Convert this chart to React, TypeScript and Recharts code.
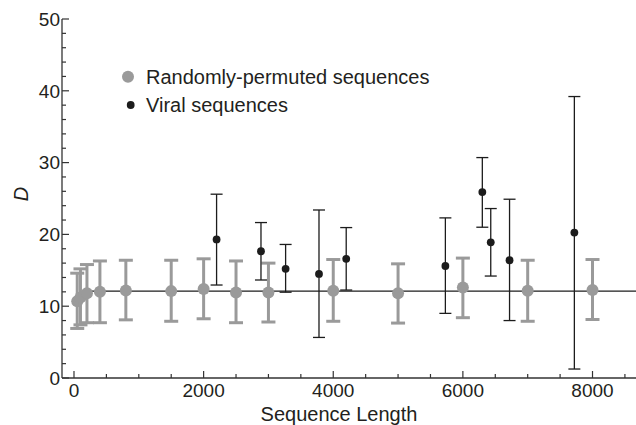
import React from 'react';
import { ScatterChart, Scatter, XAxis, YAxis, ErrorBar, ReferenceLine, Legend } from 'recharts';

// Randomly-permuted sequences (gray)
const permutedLength = [50, 100, 200, 400, 800, 1500, 2000, 2500, 3000, 4000, 5000, 6000, 7000, 8000];
const permutedD = [10.7, 11.2, 11.8, 12.0, 12.2, 12.1, 12.4, 11.9, 11.9, 12.15, 11.8, 12.6, 12.15, 12.25];
const permutedLow = [6.9, 7.4, 7.7, 7.7, 8.1, 7.9, 8.25, 7.7, 7.8, 7.9, 7.65, 8.4, 7.9, 8.15];
const permutedHigh = [14.6, 15.2, 15.8, 16.3, 16.4, 16.4, 16.6, 16.3, 16.0, 16.5, 15.9, 16.7, 16.4, 16.5];

// Viral sequences (black)
const viralLength = [2200, 2885, 3265, 3780, 4200, 5730, 6300, 6430, 6720, 7720];
const viralD = [19.3, 17.65, 15.2, 14.5, 16.6, 15.6, 25.9, 18.9, 16.4, 20.25];
const viralLow = [12.95, 13.65, 11.95, 5.65, 12.25, 9.0, 21.0, 14.2, 8.0, 1.25];
const viralHigh = [25.6, 21.65, 18.6, 23.4, 20.95, 22.3, 30.7, 23.6, 24.9, 39.2];

// Fitted constant
const fitD = 12.1;
const fitStart = 200;

const xTicks = [0, 500, 1000, 1500, 2000, 2500, 3000, 3500, 4000, 4500, 5000, 5500, 6000, 6500, 7000, 7500, 8000, 8500];
const yTicks = [0, 2, 4, 6, 8, 10, 12, 14, 16, 18, 20, 22, 24, 26, 28, 30, 32, 34, 36, 38, 40, 42, 44, 46, 48, 50];
const xDomain = [-185, 8671];
const yDomain = [0, 50];

const GRAY = '#9a9a9a';
const BLACK = '#1c1c1c';
const AXIS = '#333333';
const TEXT = '#231f20';
const FONT = 'Liberation Sans, Arial, Helvetica, sans-serif';

const permutedData = permutedLength.map((x, i) => ({
  x,
  y: permutedD[i],
  err: [permutedD[i] - permutedLow[i], permutedHigh[i] - permutedD[i]],
}));
const viralData = viralLength.map((x, i) => ({
  x,
  y: viralD[i],
  err: [viralD[i] - viralLow[i], viralHigh[i] - viralD[i]],
}));

const XTick = (props: any) => {
  const { x, y, payload, top } = props;
  const v = payload.value;
  const major = v % 2000 === 0;
  const len = major ? 7 : 4;
  return (
    <g>
      <line x1={x} x2={x} y1={y} y2={top ? y + len : y - len} stroke={AXIS} strokeWidth={1.2} />
      {!top && major && (
        <text x={x} y={y + 19} textAnchor="middle" fontSize={19} fill={TEXT} fontFamily={FONT}>
          {v}
        </text>
      )}
    </g>
  );
};

const YTick = (props: any) => {
  const { x, y, payload } = props;
  const v = payload.value;
  const major = v % 10 === 0;
  const len = major ? 7 : 4;
  return (
    <g>
      <line x1={x} x2={x + len} y1={y} y2={y} stroke={AXIS} strokeWidth={1.2} />
      {major && (
        <text x={x - 2} y={y + 6.8} textAnchor="end" fontSize={19} fill={TEXT} fontFamily={FONT}>
          {v}
        </text>
      )}
    </g>
  );
};

const GrayDot = (props: any) => <circle cx={props.cx} cy={props.cy} r={6} fill={GRAY} />;
const BlackDot = (props: any) => <circle cx={props.cx} cy={props.cy} r={3.9} fill={BLACK} />;

const LegendContent = () => (
  <svg width={380} height={60} style={{ display: 'block' }}>
    <circle cx={18} cy={16.7} r={6} fill={GRAY} />
    <text x={36} y={24} fontSize={20} fill={TEXT} fontFamily={FONT}>Randomly-permuted sequences</text>
    <circle cx={20.7} cy={45} r={3.9} fill={BLACK} />
    <text x={36} y={52} fontSize={20} fill={TEXT} fontFamily={FONT}>Viral sequences</text>
  </svg>
);

export default function App() {
  return (
    <div style={{ position: 'absolute', left: 0, top: 0, width: 636, height: 425, background: '#fff' }}>
      <ScatterChart
        width={636}
        height={425}
        margin={{ top: 19, right: 0, bottom: 0, left: 2 }}
        style={{ fontFamily: FONT }}
      >
        <XAxis
          xAxisId="top"
          orientation="top"
          type="number"
          dataKey="x"
          domain={xDomain}
          allowDataOverflow
          ticks={xTicks}
          interval={0}
          height={0}
          tickSize={0}
          tickMargin={0}
          tickLine={false}
          axisLine={{ stroke: AXIS, strokeWidth: 1.3 }}
          tick={<XTick top />}
        />
        <XAxis
          type="number"
          dataKey="x"
          domain={xDomain}
          allowDataOverflow
          ticks={xTicks}
          interval={0}
          height={47}
          tickSize={0}
          tickMargin={0}
          tickLine={false}
          axisLine={{ stroke: AXIS, strokeWidth: 1.3 }}
          tick={<XTick />}
          label={{
            content: () => (
              <text x={339} y={421} textAnchor="middle" fontSize={20} fill={TEXT} fontFamily={FONT}>
                Sequence Length
              </text>
            ),
          }}
        />
        <YAxis
          type="number"
          dataKey="y"
          domain={yDomain}
          allowDataOverflow
          ticks={yTicks}
          interval={0}
          width={60}
          tickSize={0}
          tickMargin={0}
          tickLine={false}
          axisLine={{ stroke: AXIS, strokeWidth: 1.3 }}
          tick={<YTick />}
          label={{
            content: () => (
              <text
                x={21}
                y={194}
                textAnchor="middle"
                dominantBaseline="central"
                fontSize={20}
                fontStyle="italic"
                fill={TEXT}
                fontFamily={FONT}
                transform="rotate(-90 21 194)"
              >
                D
              </text>
            ),
          }}
        />
        <ReferenceLine
          segment={[
            { x: fitStart, y: fitD },
            { x: xDomain[1], y: fitD },
          ]}
          stroke={BLACK}
          strokeWidth={1.3}
          ifOverflow="visible"
        />
        <Scatter name="Randomly-permuted sequences" data={permutedData} shape={<GrayDot />} isAnimationActive={false}>
          <ErrorBar dataKey="err" direction="y" width={7} strokeWidth={3} stroke={GRAY} isAnimationActive={false} />
        </Scatter>
        <Scatter name="Viral sequences" data={viralData} shape={<BlackDot />} isAnimationActive={false}>
          <ErrorBar dataKey="err" direction="y" width={6} strokeWidth={1.3} stroke={BLACK} isAnimationActive={false} />
        </Scatter>
        <Legend
          layout="horizontal"
          verticalAlign="middle"
          align="center"
          content={<LegendContent />}
          wrapperStyle={{ position: 'absolute', left: 110, top: 60, width: 380, height: 60 }}
        />
      </ScatterChart>
    </div>
  );
}
